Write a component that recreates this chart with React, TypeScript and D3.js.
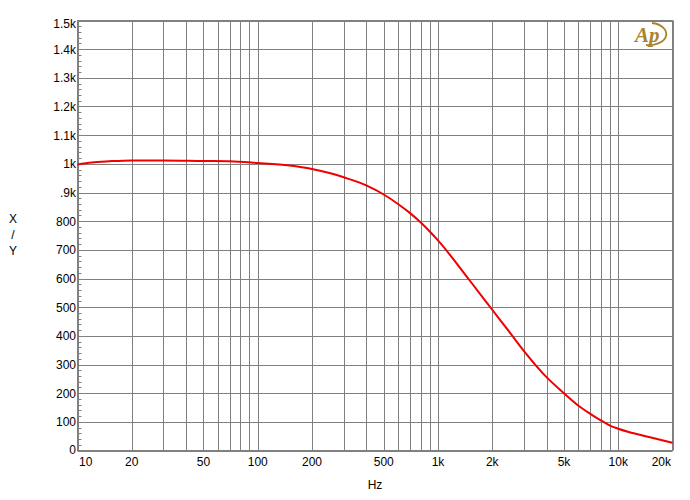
import React from "react";
import * as d3 from "d3";

const freqs = [10, 12, 15, 20, 30, 50, 70, 100, 150, 200, 250, 300, 400, 500, 600, 700, 800, 900, 1000, 1500, 2000, 2500, 3000, 4000, 5000, 6000, 7000, 8000, 9000, 10000, 12000, 15000, 20000];
const values = [998, 1005, 1009, 1012, 1012, 1010, 1009, 1003, 994, 982, 968, 953, 925, 893, 860, 828, 796, 764, 733, 593, 491, 412, 347, 256, 200, 157, 128, 105, 87, 76, 61, 46, 27];

const xTickValues = [10, 20, 50, 100, 200, 500, 1000, 2000, 5000, 10000, 20000];
const xTickLabels = ["10", "20", "50", "100", "200", "500", "1k", "2k", "5k", "10k", "20k"];
const yTickValues = [0, 100, 200, 300, 400, 500, 600, 700, 800, 900, 1000, 1100, 1200, 1300, 1400, 1500];
const yTickLabels = ["0", "100", "200", "300", "400", "500", "600", "700", "800", ".9k", "1k", "1.1k", "1.2k", "1.3k", "1.4k", "1.5k"];

const W = 690, H = 500;
const M = { left: 77.5, right: 672.5, top: 20.5, bottom: 450.5 };
const GRID = "#808080";
const FONT = "'Liberation Sans', Arial, sans-serif";

export default function App() {
  const x = d3.scaleLog().domain([10, 20000]).range([M.left, M.right]);
  const y = d3.scaleLinear().domain([0, 1500]).range([M.bottom, M.top]);
  const xGrid = x.ticks();
  const yMinor = d3.range(0, 1500, 20).filter((v) => v % 100 !== 0);
  const line = d3
    .line<number>()
    .x((_, i) => x(freqs[i]))
    .y((d) => y(d))
    .curve(d3.curveMonotoneX);

  return (
    <svg width={W} height={H} style={{ position: "absolute", left: 0, top: 0, background: "#fff" }} fontFamily={FONT}>
      <rect x={0} y={0} width={W} height={H} fill="#fff" />
      {xGrid.map((f, i) => (
        <line key={"xg" + i} x1={Math.round(x(f)) + 0.5} x2={Math.round(x(f)) + 0.5} y1={M.top} y2={M.bottom} stroke={GRID} strokeWidth={1} />
      ))}
      {yTickValues.map((v, i) => (
        <line key={"yg" + i} x1={M.left} x2={M.right} y1={Math.round(y(v)) + 0.5} y2={Math.round(y(v)) + 0.5} stroke={GRID} strokeWidth={1} />
      ))}
      {yMinor.map((v, i) => (
        <line key={"ym" + i} x1={M.left} x2={M.left + 4} y1={Math.round(y(v)) + 0.5} y2={Math.round(y(v)) + 0.5} stroke={GRID} strokeWidth={1} />
      ))}
      <rect x={M.left} y={M.top} width={M.right - M.left} height={M.bottom - M.top} fill="none" stroke={GRID} strokeWidth={1} />
      <path d={line(values) || ""} fill="none" stroke="#f00000" strokeWidth={2} />
      {yTickValues.map((v, i) => {
        let cy = y(v);
        if (cy < 23) cy = 23;
        if (cy > 449) cy = 449;
        return (
          <text key={"yl" + i} x={76} y={cy + 4.5} textAnchor="end" fontSize={12} fill="#000">
            {yTickLabels[i]}
          </text>
        );
      })}
      {xTickValues.map((f, i) => {
        const last = i === xTickValues.length - 1;
        const first = i === 0;
        return (
          <text
            key={"xl" + i}
            x={first ? x(f) + 1.5 : last ? x(f) - 1.5 : x(f)}
            y={466}
            textAnchor={first ? "start" : last ? "end" : "middle"}
            fontSize={12}
            fill="#000"
          >
            {xTickLabels[i]}
          </text>
        );
      })}
      <text x={(M.left + M.right) / 2} y={489} textAnchor="middle" fontSize={12} fill="#000">Hz</text>
      <text x={13} y={223} textAnchor="middle" fontSize={12} fill="#000">X</text>
      <text x={13} y={239} textAnchor="middle" fontSize={12} fill="#000">/</text>
      <text x={13} y={255} textAnchor="middle" fontSize={12} fill="#000">Y</text>
      <g>
        <path d="M 652 23 A 17 11 0 1 1 646 45" fill="none" stroke="#a8842c" strokeWidth={1.8} />
        <text x={635} y={42} fontSize={21} fontStyle="italic" fontWeight="bold" fill="#a8842c" fontFamily="'Liberation Serif', serif">Ap</text>
      </g>
    </svg>
  );
}
